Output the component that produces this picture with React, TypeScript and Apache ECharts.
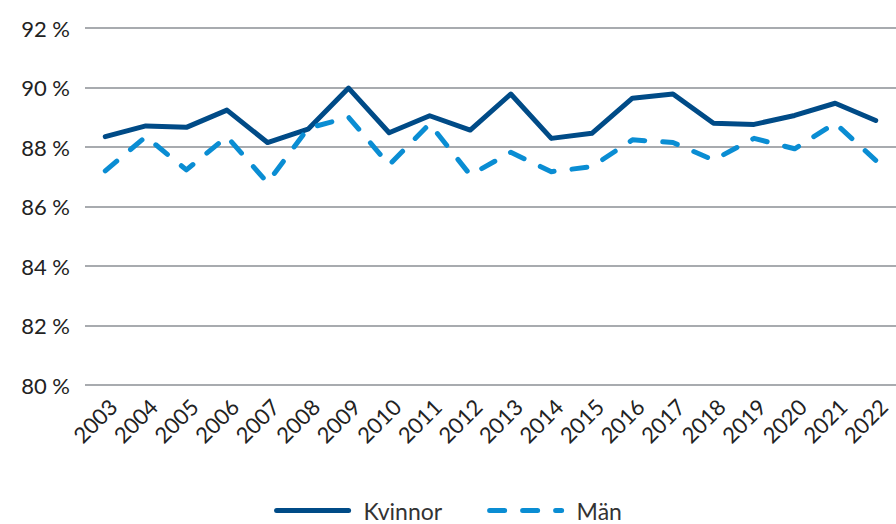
import React, { useEffect, useRef } from "react";
import * as echarts from "echarts";

const years = ["2003","2004","2005","2006","2007","2008","2009","2010","2011","2012","2013","2014","2015","2016","2017","2018","2019","2020","2021","2022"];
const kvinnor = [88.35, 88.71, 88.66, 89.24, 88.15, 88.6, 89.98, 88.48, 89.05, 88.57, 89.78, 88.29, 88.46, 89.64, 89.78, 88.8, 88.76, 89.06, 89.47, 88.89];
const man = [87.2, 88.35, 87.23, 88.35, 86.8, 88.63, 89.0, 87.4, 88.78, 87.06, 87.82, 87.17, 87.34, 88.24, 88.15, 87.56, 88.29, 87.94, 88.8, 87.55];
const yTicks = { min: 80, max: 92, interval: 2 };

const FONT = "Lato, 'DejaVu Sans', sans-serif";

export default function App() {
  const ref = useRef<HTMLDivElement>(null);
  useEffect(() => {
    if (!ref.current) return;
    const chart = echarts.init(ref.current, null, { renderer: "svg" });
    chart.setOption({
      animation: false,
      grid: { left: 85, right: -8, top: 28, bottom: 139, containLabel: false },
      legend: {
        bottom: -3,
        left: "center",
        itemWidth: 72,
        itemHeight: 14,
        itemGap: 45,
        itemStyle: { opacity: 0 },
        lineStyle: { width: 5, cap: "round" },
        textStyle: { fontFamily: FONT, fontSize: 23, color: "#333", padding: [0, 0, 0, 10] },
        data: ["Kvinnor", "Män"],
      },
      xAxis: {
        type: "category",
        data: years,
        boundaryGap: true,
        axisLine: { show: false },
        axisTick: { show: false },
        axisLabel: {
          rotate: 45,
          fontFamily: FONT,
          fontSize: 22,
          color: "#222",
          margin: 10,
          verticalAlign: "top",
          interval: 0,
        },
      },
      yAxis: {
        type: "value",
        min: yTicks.min,
        max: yTicks.max,
        interval: yTicks.interval,
        axisLine: { show: false },
        axisTick: { show: false },
        splitLine: { lineStyle: { color: "#a8abaf", width: 2 } },
        axisLabel: {
          formatter: (v: number) => `${v} %`,
          fontFamily: FONT,
          fontSize: 22,
          color: "#222",
          margin: 15,
        },
      },
      series: [
        {
          name: "Kvinnor",
          type: "line",
          data: kvinnor,
          symbol: "none",
          lineStyle: { color: "#004b87", width: 5, cap: "round", join: "round" },
          itemStyle: { color: "#004b87" },
        },
        {
          name: "Män",
          type: "line",
          data: man,
          symbol: "none",
          lineStyle: { color: "#0a8dd3", width: 5, type: [15, 18], cap: "round", join: "round" },
          itemStyle: { color: "#0a8dd3" },
        },
      ],
    });
    return () => chart.dispose();
  }, []);
  return <div ref={ref} style={{ width: 896, height: 524, position: "absolute", left: 0, top: 0 }} />;
}
